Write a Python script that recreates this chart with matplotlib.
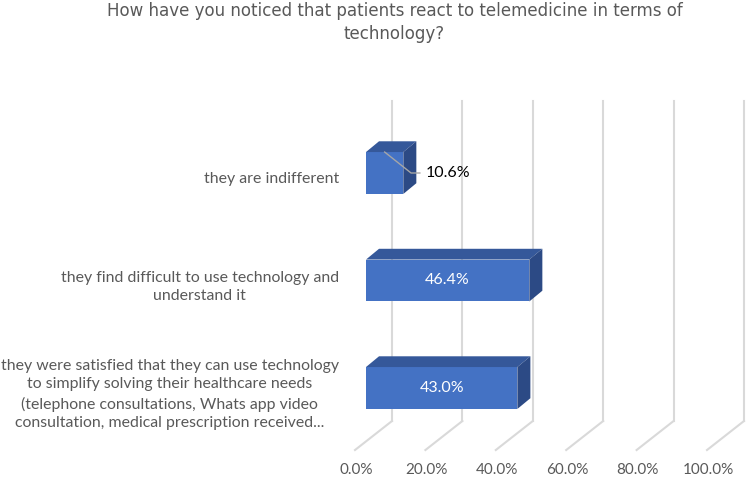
import matplotlib.pyplot as plt
from matplotlib.patches import Polygon
from matplotlib import transforms

# data
categories = [
    "they were satisfied that they can use technology\nto simplify solving their healthcare needs\n(telephone consultations, Whats app video\nconsultation, medical prescription received...",
    "they find difficult to use technology and\nunderstand it",
    "they are indifferent",
]
values = [43.0, 46.4, 10.6]
ticks = [0, 20, 40, 60, 80, 100]
tick_labels = ["0.0%", "20.0%", "40.0%", "60.0%", "80.0%", "100.0%"]
title = "How have you noticed that patients react to telemedicine in terms of\ntechnology?"

FRONT = "#4472C4"
TOP = "#35589A"
SIDE = "#2C4A85"
GRID = "#D9D9D9"
TXT = "#595959"
LABEL_FONT = ["Lato", "DejaVu Sans"]

fig = plt.figure(figsize=(7.5, 4.78), dpi=100)
# axes spans the bars' front plane
ax = fig.add_axes([366 / 750, (478 - 441.75) / 478, 352 / 750, 322.5 / 478])
ax.set_xlim(0, 100)
ax.set_ylim(-0.5, 2.5)
ax.axis("off")

# depth offsets (data units)
bar_dx, bar_dy = 3.7, 0.10
wall_shift = transforms.ScaledTranslation(26 / 100, 0, fig.dpi_scale_trans)
floor_shift = transforms.ScaledTranslation(-11 / 100, 0, fig.dpi_scale_trans)
label_shift = transforms.ScaledTranslation(-10 / 100, 0, fig.dpi_scale_trans)
wall_bottom, wall_top = -0.307, 2.67
floor_front = -0.577

for t, lab in zip(ticks, tick_labels):
    ax.plot([t, t], [wall_bottom, wall_top], color=GRID, lw=1.5,
            transform=ax.transData + wall_shift, clip_on=False, zorder=0)
    # floor diagonal from wall bottom to front edge
    p0 = (ax.transData + wall_shift).transform((t, wall_bottom))
    p1 = (ax.transData + floor_shift).transform((t, floor_front))
    ax.plot([p0[0], p1[0]], [p0[1], p1[1]], color=GRID, lw=1.5,
            transform=None, clip_on=False, zorder=0)
    ax.text(t, -0.763, lab, ha="center", va="center", fontsize=11, color=TXT,
            family=LABEL_FONT, transform=ax.transData + label_shift)

h = 0.39
ys = range(len(values))
ax.barh(ys, values, height=h, color=FRONT, zorder=3)
for y, v in zip(ys, values):
    top = y + h / 2
    bot = y - h / 2
    ax.add_patch(Polygon([(0, top), (v, top), (v + bar_dx, top + bar_dy), (bar_dx, top + bar_dy)],
                         closed=True, facecolor=TOP, edgecolor="none", zorder=3, clip_on=False))
    ax.add_patch(Polygon([(v, bot), (v, top), (v + bar_dx, top + bar_dy), (v + bar_dx, bot + bar_dy)],
                         closed=True, facecolor=SIDE, edgecolor="none", zorder=3, clip_on=False))

# value labels
for y, v in zip(ys, values):
    txt = f"{v:.1f}%"
    if v > 20:
        ax.text(v / 2, y, txt, ha="center", va="center", color="white",
                fontsize=11.5, family=LABEL_FONT, zorder=5)
    else:
        ax.plot([v / 2, v + 2.2, v + 4.7], [y + h / 2, y, y], color="#A6A6A6",
                lw=1, zorder=4, clip_on=False)
        ax.text(v + 6.4, y, txt, ha="left", va="center", color="black",
                fontsize=11.5, family=LABEL_FONT, zorder=5)

# category labels
for y, c in zip(ys, categories):
    ax.text(-7.7, y - 0.06, c, ha="right", va="center", multialignment="center",
            fontsize=11.4, color=TXT, family=LABEL_FONT, linespacing=1.42, clip_on=False)

fig.text(394.5 / 750, 1 - 2 / 478, title, ha="center", va="top", fontsize=13.3, color=TXT,
         family=["DejaVu Sans"], fontstretch="condensed", linespacing=1.35)

fig.savefig("out.png", dpi=100)
